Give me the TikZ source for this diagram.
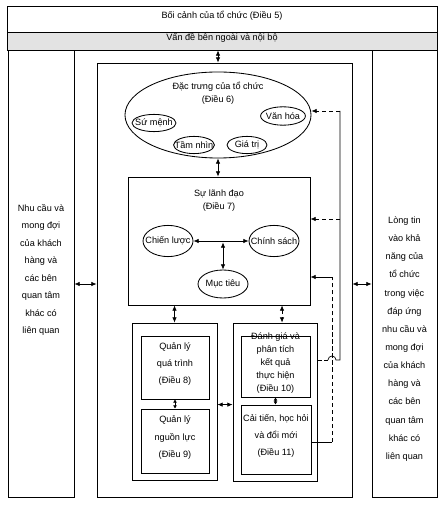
\documentclass[tikz,border=0pt]{standalone}
\usepackage{fontspec}
\setmainfont{Liberation Sans}
\usepackage{tikz}
\usetikzlibrary{arrows.meta,shapes.geometric,fit}
\newcommand{\fs}{\fontsize{6.5}{12.4}\selectfont}
\newcommand{\fss}{\fontsize{6.5}{9.2}\selectfont}
\newcommand{\zw}[1]{\makebox[0pt]{#1}}
\newcommand{\dieu}[1]{(Điều #1)}
\tikzset{
  bx/.style={draw,line width=0.6pt,inner sep=0pt,align=center},
  el/.style={draw,ellipse,line width=0.6pt,inner sep=0pt,align=center},
  tx/.style={align=center,inner sep=0pt},
  dar/.style={line width=0.5pt,{Latex[length=1.3mm,width=1.1mm]}-{Latex[length=1.3mm,width=1.1mm]}},
  sdar/.style={line width=0.5pt,{Latex[length=0.8mm,width=1mm]}-{Latex[length=0.8mm,width=1mm]}},
  tip/.style={-{Latex[length=1.3mm,width=1.1mm]}},
  fb/.style={line width=0.5pt,densely dashed},
  fbs/.style={line width=0.5pt}
}

\begin{document}
\begin{tikzpicture}[x=0.025cm,y=-0.025cm,font=\fs]
\useasboundingbox (0,0) rectangle (446,510);
\node[bx,fit={(7,6) (437,32)}] (ctx) {Bối cảnh của tổ chức \dieu{5}};
\node[bx,fill=gray!22,fit={(7,32) (437,50)}] (iss) {Vấn đề bên ngoài và nội bộ};
\node[bx,fit={(8,50) (74,497)}] (need) {Nhu cầu và\\mong đợi\\của khách\\hàng và\\các bên\\quan tâm\\khác có\\liên quan};
\node[bx,fit={(372,50) (437,497)}] (trust) {};
\node[tx,font=\fontsize{6.5}{12.9}\selectfont] (trusttxt) at (404.5,339) {Lòng tin\\vào khả\\năng của\\tổ chức\\trong việc\\đáp ứng\\nhu cầu và\\mong đợi\\của khách\\hàng và\\các bên\\quan tâm\\khác có\\liên quan};
\node[bx,fit={(97,63) (352,497)}] (org) {};

\node[el,minimum width=4.65cm,minimum height=2.15cm] (char) at (218,115) {};
\node[tx,font=\fss] (chartxt) at (218,93) {Đặc trưng của tổ chức\\\dieu{6}};
\node[el,minimum width=1.1cm,minimum height=0.43cm] (mis) at (154,123) {\zw{Sứ mệnh}};
\node[el,minimum width=1.02cm,minimum height=0.43cm] (vis) at (194,145) {\zw{Tầm nhìn}};
\node[el,minimum width=1.0cm,minimum height=0.43cm] (vals) at (247,145) {\zw{Giá trị}};
\node[el,minimum width=1.12cm,minimum height=0.46cm] (cul) at (283,116) {\zw{Văn hóa}};

\node[bx,fit={(128,177) (310,305)}] (lead) {};
\node[tx,font=\fss] (leadtxt) at (219,201) {Sự lãnh đạo\\\dieu{7}};
\node[el,minimum width=1.25cm,minimum height=0.78cm] (chien) at (168,241) {\zw{Chiến lược}};
\node[el,minimum width=1.25cm,minimum height=0.78cm] (chinh) at (274,241) {\zw{Chính sách}};
\node[el,minimum width=1.25cm,minimum height=0.7cm] (muc) at (223,284) {\zw{Mục tiêu}};

\node[bx,fit={(132,323) (217,480)}] (grpL) {};
\node[bx,fit={(233,323) (317,481)}] (grpR) {};
\node[bx,fit={(141,336) (209,399)}] (proc) {Quản lý\\quá trình\\\dieu{8}};
\node[bx,fit={(141,409) (209,473)}] (res) {Quản lý\\nguồn lực\\\dieu{9}};
\node[bx,font=\fss,fit={(241,336) (310,397)}] (eval) {Đánh giá và\\phân tích\\kết quả\\thực hiện\\\dieu{10}};
\node[bx,fit={(241,405) (311,474)}] (impr) {Cải tiến, học hỏi\\và đổi mới\\\dieu{11}};

\draw[dar] (iss.south -| char.north) -- (org.north -| char.north);
\draw[dar] (char.south) -- (lead.north -| char.south);
\draw[dar] (chien.east) -- (chinh.west);
\draw[dar,shorten <=1pt] (muc.north |- chien.east) -- (muc.north);
\draw[dar] (lead.south -| grpL.north) -- (grpL.north);
\draw[dar,fb] ([xshift=5pt]grpR.north |- lead.south) -- ([xshift=5pt]grpR.north);
\draw[sdar] (proc.south) -- (res.north);
\draw[sdar] (eval.south) -- (eval.south |- impr.north);
\draw[dar] (grpL.east |- impr.north) -- (grpR.west |- impr.north);
\draw[dar] (need.east |- muc) -- (org.west |- muc);
\draw[dar] (org.east |- muc) -- (trust.west |- muc);

\coordinate (fb1) at (332,442);
\coordinate (fb2) at (332,277);
\coordinate (fb3) at (340,360);
\coordinate (fb4) at (340,111);
\coordinate (fb5) at (340,219);
\coordinate (hop) at (328,360);
\draw[fbs] (impr.east |- fb1) -- (fb1);
\draw[fb] (fb1) -- (fb2);
\draw[fbs,tip] (fb2) -- (lead.east |- fb2);
\draw[fb] (grpR.east |- fb3) -- (hop);
\draw[fbs] (hop) arc (180:360:4) -- (fb3) -- (fb4);
\draw[fb,tip] (fb4) -- (char.east |- fb4);
\draw[fb,tip] (fb5) -- (lead.east |- fb5);
\end{tikzpicture}
\end{document}
